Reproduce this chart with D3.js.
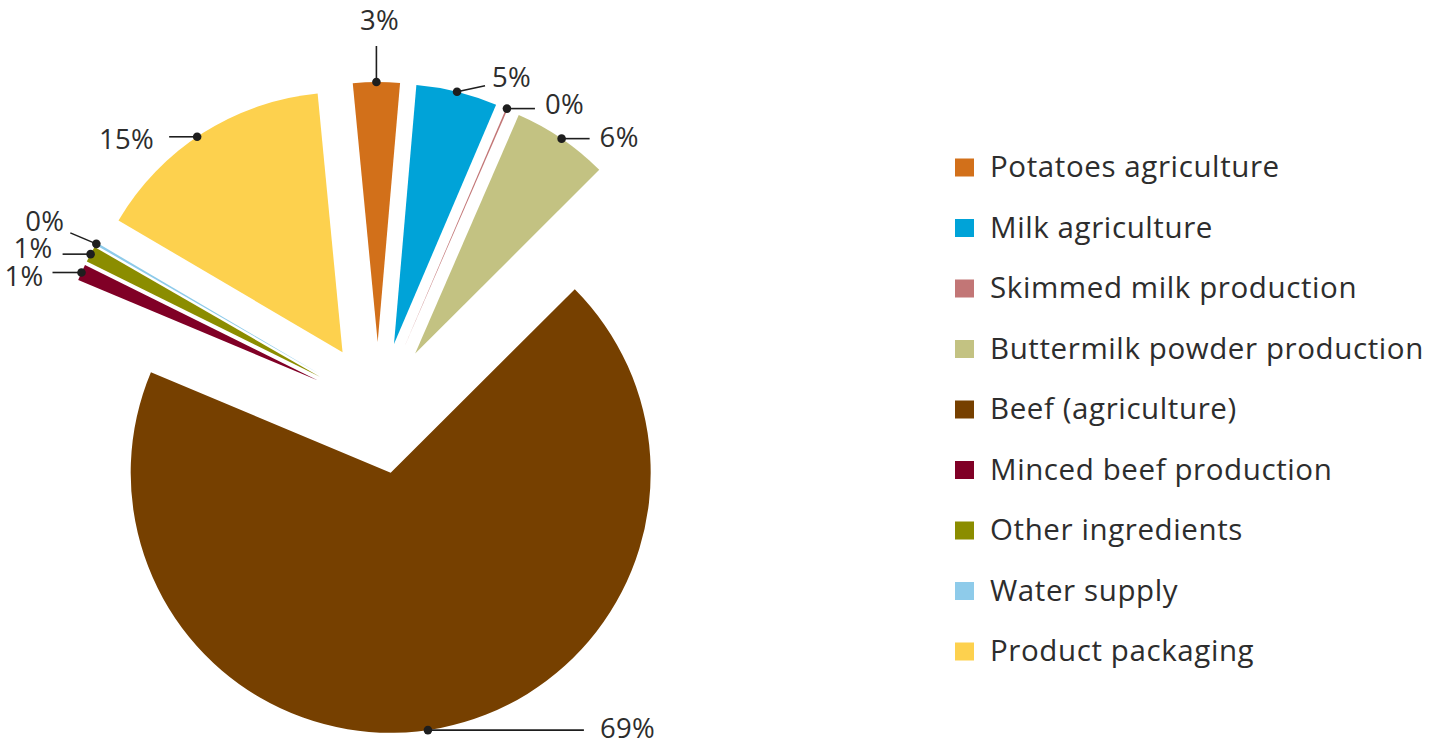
<!DOCTYPE html>
<html>
<head>
<meta charset="utf-8">
<script src="https://cdn.jsdelivr.net/npm/d3@7"></script>
<style>
  html, body { margin: 0; padding: 0; background: #ffffff; }
  svg { display: block; }
  text { font-family: "Open Sans", "Noto Sans", sans-serif; fill: #2d2d2d; }
</style>
</head>
<body>
<svg id="chart" width="1436" height="740"></svg>
<script>
// Carbon footprint contributions by stage (share of total, %)
const categories = [
  "Potatoes agriculture",
  "Milk agriculture",
  "Skimmed milk production",
  "Buttermilk powder production",
  "Beef (agriculture)",
  "Minced beef production",
  "Other ingredients",
  "Water supply",
  "Product packaging"
];
const shares = [2.9, 5.05, 0.1, 6.0, 68.8, 1.0, 1.0, 0.15, 15.0];
const colors = [
  "#d2701a", "#00a3d8", "#c27676", "#c3c282", "#764000",
  "#800026", "#8b8d00", "#8ecbea", "#fdd14e"
];

// Callout layout per slice: angular nudge of the dot (deg), leader vector,
// text anchor and text offset from the leader end.
const callouts = [
  { nudge: 0,    lead: [0, -36],   anchor: "middle", txt: [3, -16] },
  { nudge: 0,    lead: [28, -6],   anchor: "start",  txt: [7, 1] },
  { nudge: 0,    lead: [28, 0],    anchor: "start",  txt: [10, 5] },
  { nudge: 0,    lead: [28, 0],    anchor: "start",  txt: [10, 8] },
  { nudge: 2.85, lead: [156, 0],   anchor: "start",  txt: [16, 8] },
  { nudge: 0,    lead: [-29, 0],   anchor: "end",    txt: [-9, 13] },
  { nudge: 0,    lead: [-28, 0],   anchor: "end",    txt: [-10, 4] },
  { nudge: 0,    lead: [-26, -11], anchor: "end",    txt: [-6, -2] },
  { nudge: -1.5, lead: [-28, 0],   anchor: "end",    txt: [-15, 12] }
];

const svg = d3.select("#chart");
const cx = 378, cy = 408, R = 260, explode = 66;
const deg = Math.PI / 180;
const start = -5.5 * deg;

const pie = d3.pie().sort(null).value(d => d)
  .startAngle(start).endAngle(start + 2 * Math.PI);
const arcs = pie(shares);
const arc = d3.arc().innerRadius(0).outerRadius(R);

const g = svg.append("g").attr("transform", `translate(${cx},${cy})`);

const slices = g.selectAll("g.slice")
  .data(arcs)
  .join("g")
  .attr("class", "slice")
  .attr("transform", d => {
    const m = (d.startAngle + d.endAngle) / 2;
    return `translate(${explode * Math.sin(m)},${-explode * Math.cos(m)})`;
  });

slices.append("path")
  .attr("d", arc)
  .attr("fill", (d, i) => colors[i]);

// Callouts: dot on the outer arc, leader line, rounded percentage
const fmt = v => Math.round(v) + "%";
slices.each(function(d, i) {
  const c = callouts[i];
  const a = (d.startAngle + d.endAngle) / 2 + c.nudge * deg;
  const px = R * Math.sin(a), py = -R * Math.cos(a);
  const ex = px + c.lead[0], ey = py + c.lead[1];
  const s = d3.select(this);
  s.append("line")
    .attr("x1", px).attr("y1", py).attr("x2", ex).attr("y2", ey)
    .attr("stroke", "#1e1e1e").attr("stroke-width", 1.6);
  s.append("circle")
    .attr("cx", px).attr("cy", py).attr("r", 4.3)
    .attr("fill", "#1e1e1e");
  s.append("text")
    .attr("x", ex + c.txt[0]).attr("y", ey + c.txt[1])
    .attr("text-anchor", c.anchor)
    .attr("font-size", 27.5)
    .attr("letter-spacing", 0.3)
    .text(fmt(d.data));
});

// Legend
const legend = svg.append("g").attr("transform", "translate(955,167.5)");
const rows = legend.selectAll("g")
  .data(categories)
  .join("g")
  .attr("transform", (d, i) => `translate(0,${i * 60.5})`);
rows.append("rect")
  .attr("x", 0).attr("y", -9).attr("width", 19).attr("height", 18)
  .attr("fill", (d, i) => colors[i]);
rows.append("text")
  .attr("x", 35).attr("y", 9.5)
  .attr("font-size", 29.5)
  .attr("letter-spacing", 0.6)
  .text(d => d);
</script>
</body>
</html>
